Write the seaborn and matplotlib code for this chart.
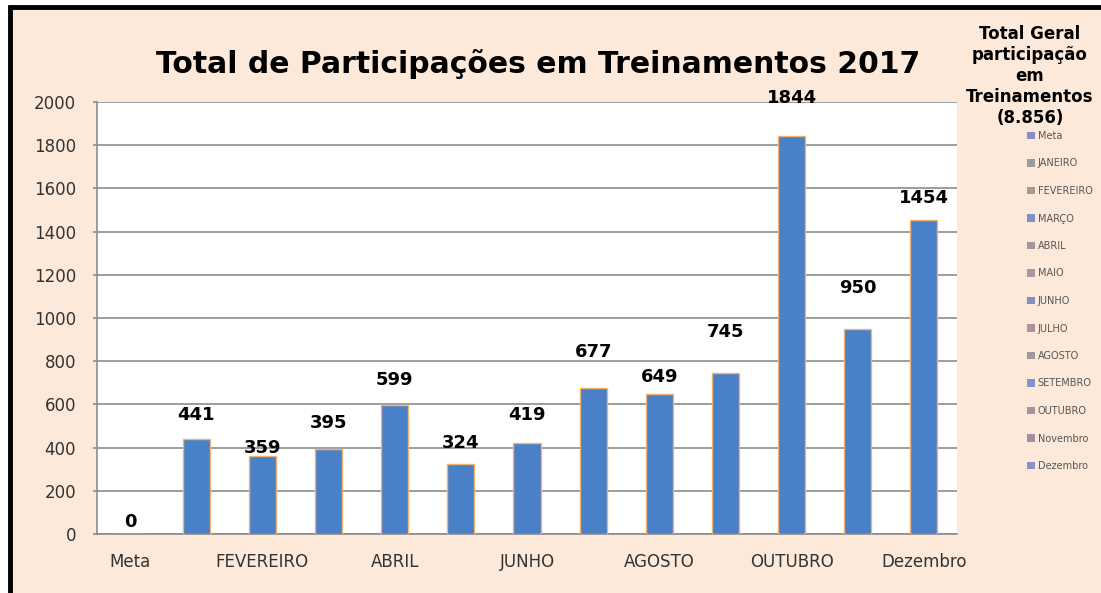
#!/usr/bin/env python3
"""
Total de participações em treinamentos 2017 - bar chart with Excel look.
"""
import matplotlib
matplotlib.use('Agg')
import matplotlib.pyplot as plt
import seaborn as sns
import pandas as pd
from matplotlib.patches import Patch, Rectangle
from matplotlib.lines import Line2D

# Data
months = ['Meta', 'JANEIRO', 'FEVEREIRO', 'MARÇO', 'ABRIL', 'MAIO', 'JUNHO',
          'JULHO', 'AGOSTO', 'SETEMBRO', 'OUTUBRO', 'Novembro', 'Dezembro']
participacoes = [0, 441, 359, 395, 599, 324, 419, 677, 649, 745, 1844, 950, 1454]
# where each value label sits above its bar (data units, as placed in the original)
label_offset = [55, 109, 38, 118, 112, 96, 131, 164, 76, 188, 174, 191, 103]
legend_colors = ['#8a8cc8', '#a09a9a', '#b09494', '#7f90c8', '#a09898', '#a898a8',
                 '#8090c0', '#b090a0', '#a09898', '#7f95d0', '#a09898', '#a090a0',
                 '#8a90c8']
total_geral = '8.856'

W, H = 1101, 593
PEACH = '#fde9d9'
BAR = '#4a80c8'

sns.set_style('white')
plt.rcParams['font.family'] = ['DejaVu Sans']

df = pd.DataFrame({'mes': months, 'valor': participacoes})

fig = plt.figure(figsize=(W / 100, H / 100), dpi=100, facecolor='white')

# peach chart area and black frame (top + left)
fig.patches.append(Rectangle((12 / W, 0), 1, (H - 9) / H, transform=fig.transFigure,
                             facecolor=PEACH, edgecolor='none', zorder=-10))
fig.lines.append(Line2D([8 / W, 1], [(H - 7) / H] * 2, transform=fig.transFigure,
                        color='black', lw=3.5, solid_capstyle='butt'))
fig.lines.append(Line2D([10 / W] * 2, [0, (H - 5) / H], transform=fig.transFigure,
                        color='black', lw=3.5, solid_capstyle='butt'))

ax = fig.add_axes([97 / W, (H - 534) / H, 860 / W, 432 / H])
ax.set_facecolor('white')

sns.barplot(data=df, x='mes', y='valor', color=BAR, width=0.41, ax=ax,
            edgecolor='#f2b36e', linewidth=1, saturation=1, zorder=3)

ax.set_ylim(0, 2000)
ax.set_yticks(range(0, 2001, 200))
ax.set_xlim(-0.5, len(months) - 0.5)
ax.yaxis.grid(True, color='#8c8c8c', lw=1.2, zorder=0)
ax.set_axisbelow(True)
for side in ['top', 'right']:
    ax.spines[side].set_visible(False)
for side in ['left', 'bottom']:
    ax.spines[side].set_color('#8c8c8c')
    ax.spines[side].set_linewidth(1.2)

ax.set_xlabel('')
ax.set_ylabel('')
ax.set_xticks(range(len(months)))
ax.set_xticklabels([m if i % 2 == 0 else '' for i, m in enumerate(months)])
ax.tick_params(axis='x', length=0, pad=14, labelsize=12, labelcolor='#333333')
ax.tick_params(axis='y', length=3, width=1.2, color='#8c8c8c', pad=12,
               labelsize=12, labelcolor='#333333', left=True)

for i, (v, off) in enumerate(zip(participacoes, label_offset)):
    ax.text(i, v + off, str(v), ha='center', va='center', fontsize=13,
            fontweight='bold', color='black', zorder=5)

fig.text(538 / W, (H - 73) / H, 'Total de Participações em Treinamentos 2017',
         ha='center', va='baseline', fontsize=21.5, fontweight='bold', color='black')

fig.text(1030 / W, (H - 76) / H,
         'Total Geral\nparticipação\nem\nTreinamentos\n(' + total_geral + ')',
         ha='center', va='center', fontsize=12, fontweight='bold', color='black',
         linespacing=1.22)

handles = [Patch(facecolor=c, edgecolor='none') for c in legend_colors]
fig.legend(handles, months, loc='upper left', bbox_to_anchor=(1027 / W, (H - 131) / H),
           frameon=False, fontsize=7, labelcolor='#555555', borderpad=0,
           borderaxespad=0, labelspacing=1.8, handlelength=0.8, handleheight=0.8,
           handletextpad=0.3)

fig.savefig('out.png', dpi=100, facecolor=fig.get_facecolor())
